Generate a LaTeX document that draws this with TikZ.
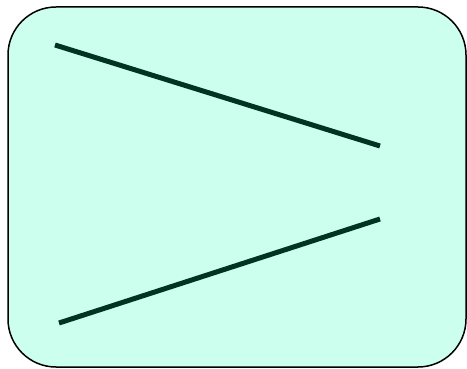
\documentclass[tikz,border=0pt]{standalone}

\definecolor{panelfill}{HTML}{CCFFEE}
\definecolor{strokegreen}{HTML}{003322}

\begin{document}
\begin{tikzpicture}[x=1pt,y=-1pt,line width=1.5pt]
\useasboundingbox (0,0) rectangle (467,369);
% ---- rounded panel ----
\draw[fill=panelfill,rounded corners=48pt] (8,7) rectangle (466,367);
% ---- the two strokes ----
\coordinate (upA) at (55,45);
\coordinate (upB) at (380,146);
\coordinate (loA) at (59,323);
\coordinate (loB) at (380,219);
\draw[strokegreen,line width=5pt] (upA) -- (upB);
\draw[strokegreen,line width=5pt] (loA) -- (loB);
\end{tikzpicture}
\end{document}
